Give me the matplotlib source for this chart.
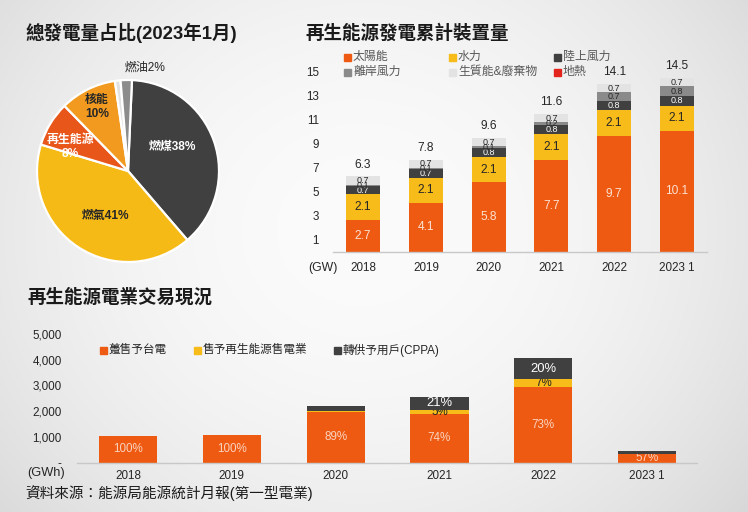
import numpy as np
import matplotlib
matplotlib.use("Agg")
import matplotlib.pyplot as plt
from matplotlib.patches import Rectangle

plt.rcParams['font.family'] = ['Liberation Sans', 'Noto Sans CJK TC', 'DejaVu Sans']

# ---------------- data ----------------
pie_labels = ["燃煤", "燃氣", "再生能源", "核能", "其他", "燃油"]
pie_values = [38, 41, 8, 10, 1, 2]

cap_years = ["2018", "2019", "2020", "2021", "2022", "2023 1"]
cap_series = ["太陽能", "水力", "陸上風力", "離岸風力", "生質能&廢棄物", "地熱"]
solar = [2.7, 4.1, 5.8, 7.7, 9.7, 10.1]
hydro = [2.1, 2.1, 2.1, 2.1, 2.1, 2.1]
onshore = [0.7, 0.7, 0.8, 0.8, 0.8, 0.8]
offshore = [0.1, 0.1, 0.1, 0.2, 0.7, 0.8]
biomass = [0.7, 0.7, 0.7, 0.7, 0.7, 0.7]
geothermal = [0.0, 0.0, 0.0, 0.0, 0.0, 0.0]
cap_totals = ["6.3", "7.8", "9.6", "11.6", "14.1", "14.5"]
cap_yticks = [1, 3, 5, 7, 9, 11, 13, 15]

trade_years = ["2018", "2019", "2020", "2021", "2022", "2023 1"]
trade_series = ["躉售予台電", "售予再生能源售電業", "轉供予用戶(CPPA)"]
to_taipower = [1040, 1080, 1975, 1900, 2960, 330]
to_retailer = [0, 0, 25, 130, 285, 10]
to_cppa = [0, 0, 220, 540, 810, 115]
pct_taipower = ["100%", "100%", "89%", "74%", "73%", "57%"]
pct_retailer = ["", "", "", "5%", "7%", ""]
pct_cppa = ["", "", "", "21%", "20%", ""]
trade_yticks = [0, 1000, 2000, 3000, 4000, 5000]
trade_yticklabels = ["-", "1,000", "2,000", "3,000", "4,000", "5,000"]

# ---------------- figure ----------------
W, H = 748, 512
fig = plt.figure(figsize=(W / 100, H / 100), dpi=100)

def fx(px):
    return px / W

def fy(py):
    return 1 - py / H

# background gradient
bg = fig.add_axes([0, 0, 1, 1], zorder=-10)
yy, xx = np.mgrid[0:H, 0:W]
r = np.sqrt(((xx - 360) / 1.0) ** 2 + ((yy - 230) / 0.9) ** 2)
v = 251 - 30 * (r / 460) ** 2
v = np.clip(v, 200, 255) / 255.0
bg.imshow(np.dstack([v, v, v]), extent=[0, 1, 0, 1], aspect='auto', interpolation='bilinear')
bg.axis('off')

DARK = "#262626"
ORANGE = "#EE5A12"
YELLOW = "#F7BB1A"
CHAR = "#404040"

# ---------------- pie ----------------
cx, cy, rad = 128, 171, 91
axp = fig.add_axes([fx(cx - rad), fy(cy + rad), 2 * rad / W, 2 * rad / H])
axp.patch.set_alpha(0)
pie_colors = ["#404040", "#F6BA17", "#E8561A", "#F19A1F", "#E2E2E2", "#8C8C8C"]
axp.pie(pie_values, colors=pie_colors, startangle=87.5, counterclock=False,
        wedgeprops=dict(edgecolor="white", linewidth=1.6))
axp.set_xlim(-1, 1)
axp.set_ylim(-1, 1)
axp.set_aspect('auto')
axp.axis('off')

def pdat(px, py):
    return (px - cx) / rad, (cy - py) / rad

kw = dict(ha='center', va='center', fontsize=8.6, fontweight='bold', clip_on=False)
axp.text(*pdat(172, 147), f"{pie_labels[0]}{pie_values[0]}%", color="white", **kw)
axp.text(*pdat(106, 216), f"{pie_labels[1]}{pie_values[1]}%", color=DARK, **kw)
axp.text(*pdat(70, 147), f"{pie_labels[2]}\n{pie_values[2]}%", color="white", linespacing=1.3, **kw)
axp.text(*pdat(97, 107), f"{pie_labels[3]}\n{pie_values[3]}%", color=DARK, linespacing=1.3, **kw)
axp.text(*pdat(145, 68), f"{pie_labels[5]}{pie_values[5]}%", color=DARK,
         ha='center', va='center', fontsize=8.6, clip_on=False)

fig.text(fx(25), fy(33), "總發電量占比(2023年1月)", fontsize=13.3, fontweight='bold',
         color="#1a1a1a", ha='left', va='center')

# ---------------- capacity stacked bars ----------------
L, R, B = 333, 707, 252
ymax = 17
T = B - ymax * 12
axc = fig.add_axes([fx(L), fy(B), (R - L) / W, (B - T) / H])
axc.patch.set_alpha(0)
x = np.arange(len(cap_years))
bw = 0.54
cap_colors = [ORANGE, YELLOW, CHAR, "#8A8A8A", "#E3E3E3", "#E3241C"]
cap_data = [solar, hydro, onshore, offshore, biomass, geothermal]
label_colors = ["#FBE2D2", DARK, "white", DARK, DARK, DARK]
label_sizes = [8.6, 8.6, 6.5, 6.5, 6.5, 6.5]
bottom = np.zeros(len(cap_years))
for vals, col, lc, ls in zip(cap_data, cap_colors, label_colors, label_sizes):
    vals = np.array(vals)
    axc.bar(x, vals, bw, bottom=bottom, color=col, linewidth=0)
    for i, val in enumerate(vals):
        if val > 0:
            axc.text(x[i], bottom[i] + val / 2, f"{val:.1f}", ha='center', va='center',
                     fontsize=ls, color=lc)
    bottom += vals
for i, t in enumerate(cap_totals):
    axc.annotate(t, (x[i], bottom[i]), xytext=(0, 4), textcoords='offset points',
                 ha='center', va='bottom', fontsize=8.6, color=DARK)
axc.set_xlim(-0.48, len(cap_years) - 1 + 0.48)
axc.set_ylim(0, ymax)
axc.set_yticks(cap_yticks)
axc.set_yticklabels([str(t) for t in cap_yticks])
axc.set_xticks(x)
axc.set_xticklabels(cap_years)
axc.tick_params(axis='y', length=0, pad=10, labelsize=8.4, labelcolor=DARK)
axc.tick_params(axis='x', length=0, pad=7, labelsize=8.4, labelcolor=DARK)
for s in ['top', 'right', 'left']:
    axc.spines[s].set_visible(False)
axc.spines['bottom'].set_color("#C8C8C8")
axc.spines['bottom'].set_linewidth(1.0)

fig.text(fx(323), fy(268), "(GW)", fontsize=8.8, color=DARK, ha='center', va='center')
fig.text(fx(305), fy(33), "再生能源發電累計裝置量", fontsize=13.3, fontweight='bold',
         color="#1a1a1a", ha='left', va='center')

# legend (top chart)
leg_pos = [(344, 57), (449, 57), (554, 57), (344, 72), (449, 72), (554, 72)]
for name, col, (px, py) in zip(cap_series, cap_colors, leg_pos):
    fig.patches.append(Rectangle((fx(px), fy(py + 3.5)), 7 / W, 7 / H, color=col,
                                 transform=fig.transFigure, figure=fig))
    fig.text(fx(px + 9), fy(py), name, fontsize=8.6, color="#595959", ha='left', va='center')

# ---------------- trade stacked bars ----------------
L2, R2, B2, T2 = 77, 697, 462.7, 334
axt = fig.add_axes([fx(L2), fy(B2), (R2 - L2) / W, (B2 - T2) / H])
axt.patch.set_alpha(0)
x2 = np.arange(len(trade_years))
bw2 = 0.56
tcolors = [ORANGE, YELLOW, CHAR]
tdata = [to_taipower, to_retailer, to_cppa]
tlabels = [pct_taipower, pct_retailer, pct_cppa]
tlcolors = ["#FAD3BE", DARK, "white"]
tsizes = [8.4, 8.4, 9.4]
bottom = np.zeros(len(trade_years))
for vals, col, labs, lc, ls in zip(tdata, tcolors, tlabels, tlcolors, tsizes):
    vals = np.array(vals, dtype=float)
    axt.bar(x2, vals, bw2, bottom=bottom, color=col, linewidth=0)
    for i, lab in enumerate(labs):
        if lab:
            axt.text(x2[i], bottom[i] + vals[i] / 2, lab, ha='center', va='center',
                     fontsize=ls, color=lc, clip_on=True, zorder=1)
    bottom += vals
axt.set_xlim(-0.49, len(trade_years) - 1 + 0.48)
axt.set_ylim(0, 5000)
axt.set_yticks(trade_yticks)
axt.set_yticklabels(trade_yticklabels)
axt.set_xticks(x2)
axt.set_xticklabels(trade_years)
axt.tick_params(axis='y', length=0, pad=11, labelsize=8.4, labelcolor=DARK)
axt.tick_params(axis='x', length=0, pad=5.5, labelsize=8.4, labelcolor=DARK)
for s in ['top', 'right', 'left']:
    axt.spines[s].set_visible(False)
axt.spines['bottom'].set_color("#C8C8C8")
axt.spines['bottom'].set_linewidth(1.0)
axt.spines['bottom'].set_zorder(2)

fig.text(fx(27), fy(298), "再生能源電業交易現況", fontsize=13.3, fontweight='bold',
         color="#1a1a1a", ha='left', va='center')
fig.text(fx(27), fy(473), "(GWh)", fontsize=9.2, color=DARK, ha='left', va='center')
fig.text(fx(25), fy(493), "資料來源：能源局能源統計月報(第一型電業)", fontsize=10.5,
         color="#1a1a1a", ha='left', va='center')

leg2_pos = [(100, 350), (194, 350), (334, 350)]
for name, col, (px, py) in zip(trade_series, tcolors, leg2_pos):
    fig.patches.append(Rectangle((fx(px), fy(py + 3.5)), 7 / W, 7 / H, color=col,
                                 transform=fig.transFigure, figure=fig))
    fig.text(fx(px + 9), fy(py), name, fontsize=8.4, color=DARK, ha='left', va='center')

fig.savefig("out.png", dpi=100)
